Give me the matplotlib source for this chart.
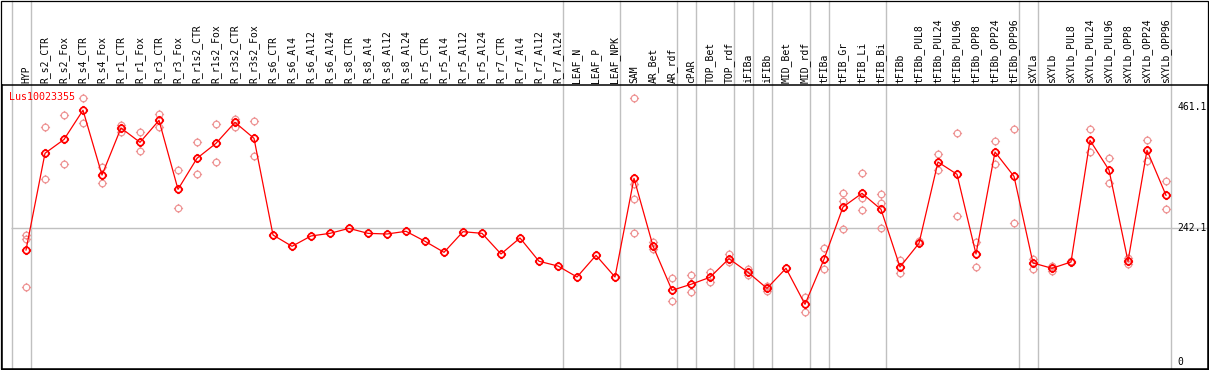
import matplotlib
matplotlib.use("Agg")
import matplotlib.pyplot as plt
from matplotlib.path import Path
from matplotlib.patches import Rectangle
import numpy as np

categories = ["HYP", "R_s2_CTR", "R_s2_Fox", "R_s4_CTR", "R_s4_Fox", "R_r1_CTR", "R_r1_Fox",
              "R_r3_CTR", "R_r3_Fox", "R_r1s2_CTR", "R_r1s2_Fox", "R_r3s2_CTR", "R_r3s2_Fox",
              "R_s6_CTR", "R_s6_Al4", "R_s6_Al12", "R_s6_Al24", "R_s8_CTR", "R_s8_Al4",
              "R_s8_Al12", "R_s8_Al24", "R_r5_CTR", "R_r5_Al4", "R_r5_Al12", "R_r5_Al24",
              "R_r7_CTR", "R_r7_Al4", "R_r7_Al12", "R_r7_Al24", "LEAF_N", "LEAF_P", "LEAF_NPK",
              "SAM", "AR_Bet", "AR_rdf", "cPAR", "TOP_Bet", "TOP_rdf", "iFIBa", "iFIBb",
              "MID_Bet", "MID_rdf", "tFIBa", "tFIB_Gr", "tFIB_Li", "tFIB_Bi", "tFIBb",
              "tFIBb_PUL8", "tFIBb_PUL24", "tFIBb_PUL96", "tFIBb_OPP8", "tFIBb_OPP24",
              "tFIBb_OPP96", "sXYLa", "sXYLb", "sXYLb_PUL8", "sXYLb_PUL24", "sXYLb_PUL96",
              "sXYLb_OPP8", "sXYLb_OPP24", "sXYLb_OPP96"]

group_sizes = [1, 28, 3, 3, 1, 2, 1, 1, 2, 1, 3, 7, 1, 7]

mean_values = [202.8, 378.0, 403.0, 456.0, 338.6, 423.8, 397.8, 437.6, 312.7, 368.9, 396.0,
               434.0, 405.0, 230.0, 209.5, 228.2, 233.0, 242.0, 233.0, 231.8, 236.7, 218.6,
               198.6, 236.0, 233.0, 195.6, 224.6, 182.4, 173.8, 153.9, 193.2, 153.9, 332.6,
               210.0, 129.8, 140.7, 153.4, 187.1, 162.4, 133.4, 169.7, 104.5, 186.0, 280.7,
               305.5, 276.5, 172.0, 215.0, 362.2, 339.9, 195.6, 380.3, 336.2, 179.3, 169.7,
               181.1, 401.5, 347.7, 182.4, 383.4, 301.9]

replicates = [
    [230.0, 222.6, 135.3], [425.6, 330.8], [446.7, 358.0], [477.5, 433.4], [353.7, 323.6],
    [428.6, 417.0], [416.0, 381.6], [449.0, 426.0], [347.0, 278.3], [397.8, 340.0],
    [430.4, 361.6], [440.0, 426.0], [435.9, 373.6],
    [], [], [], [], [], [], [], [], [], [], [], [], [], [], [], [], [], [], [],
    [477.5, 322.3, 294.6, 234.2], [217.9, 204.0], [151.6, 110.5], [157.0, 126.2],
    [163.5, 145.4], [195.0, 180.5], [167.9, 157.6], [138.2, 129.2], [],
    [118.3, 90.0], [205.9, 167.9], [306.6, 292.1, 240.9], [341.7, 296.4, 274.7],
    [303.7, 287.4, 242.0], [184.7, 160.6], [219.7], [376.7, 347.7], [414.2, 264.4],
    [217.9, 172.0], [399.7, 358.0], [421.4, 251.2], [186.5, 169.0], [174.4, 164.8],
    [182.9], [421.4, 380.3], [368.9, 323.6], [187.8, 178.0], [401.5, 363.5], [327.2, 276.5]]

right_ticks = [461.1, 242.1, 0]
right_tick_labels = ["461.1", "242.1", "0"]
gene_name = "Lus10023355"

W, H = 1209, 370
fig = plt.figure(figsize=(W / 100, H / 100), dpi=100)

# layout in pixels
ax_l, ax_r, ax_t, ax_b = 1.5, 1207.5, 85.0, 368.5
ax = fig.add_axes([ax_l / W, (H - ax_b) / H, (ax_r - ax_l) / W, (ax_b - ax_t) / H])

# scales: x pixel = 26 + 19 * i ; y pixel = 362 - 0.5522 * v
x0, dx = 26.0, 19.0
y0, dy = 362.0, 0.5522
ax.set_xlim((ax_l - x0) / dx, (ax_r - x0) / dx)
ax.set_ylim((y0 - ax_b) / dy, (y0 - ax_t) / dy)

# custom marker: circle with 4 small stubs
circle = Path.unit_circle()
stubs = []
for (a, b) in [((1, 0), (1.4, 0)), ((-1, 0), (-1.4, 0)), ((0, 1), (0, 1.4)), ((0, -1), (0, -1.4))]:
    stubs.append(Path([a, b], [Path.MOVETO, Path.LINETO]))
marker_path = Path.make_compound_path(circle, *stubs)

n = len(categories)
xs = np.arange(n)

# vertical group lines
starts = np.cumsum([0] + group_sizes)
header_extra = (ax_t - 0.5) / (ax_b - ax_t)
for s in starts:
    ax.axvline(s - 0.75, ymin=0, ymax=1 + header_extra, color="#c0c0c0", lw=1.0,
               clip_on=False, zorder=1)

# horizontal reference line
ax.plot([-0.8, ax.get_xlim()[1]], [right_ticks[1], right_ticks[1]], color="#c0c0c0",
        lw=1.0, zorder=1, solid_capstyle="butt")

# replicates
for i, reps in enumerate(replicates):
    if reps:
        ax.plot([i] * len(reps), reps, linestyle="none", marker=marker_path, markersize=6.6,
                markerfacecolor="none", markeredgecolor="#ee9696", markeredgewidth=0.9,
                zorder=2)

# main series
ax.plot(xs, mean_values, color="red", lw=0.9, zorder=3)
ax.plot(xs, mean_values, linestyle="none", marker=marker_path, markersize=6.6,
        markerfacecolor="none", markeredgecolor="red", markeredgewidth=1.25, zorder=4)

# right value labels
for v, lab in zip(right_ticks, right_tick_labels):
    ax.text((1177 - x0) / dx, v, lab, ha="left", va="center", family="DejaVu Sans Mono",
            fontsize=7.0, color="black", zorder=5)

ax.text((9.3 - x0) / dx, (y0 - 97) / dy, gene_name, ha="left", va="center",
        family="DejaVu Sans Mono", fontsize=7.2, color="red", zorder=5)

# category labels on top
ax.xaxis.tick_top()
ax.set_xticks(xs)
ax.set_xticklabels(categories, rotation=90, family="DejaVu Sans Mono", fontsize=7.0)
ax.tick_params(axis="x", length=0, pad=1.6)
ax.set_yticks([])

for sp in ax.spines.values():
    sp.set_color("black")
    sp.set_linewidth(1.1)

# outer figure border
fig.patches.append(Rectangle((0.6 / W, 0.6 / H), (W - 1.2) / W, (H - 1.2) / H,
                             transform=fig.transFigure, fill=False, edgecolor="black",
                             linewidth=0.9, zorder=10))

fig.savefig("out.png", dpi=100, facecolor="white")
